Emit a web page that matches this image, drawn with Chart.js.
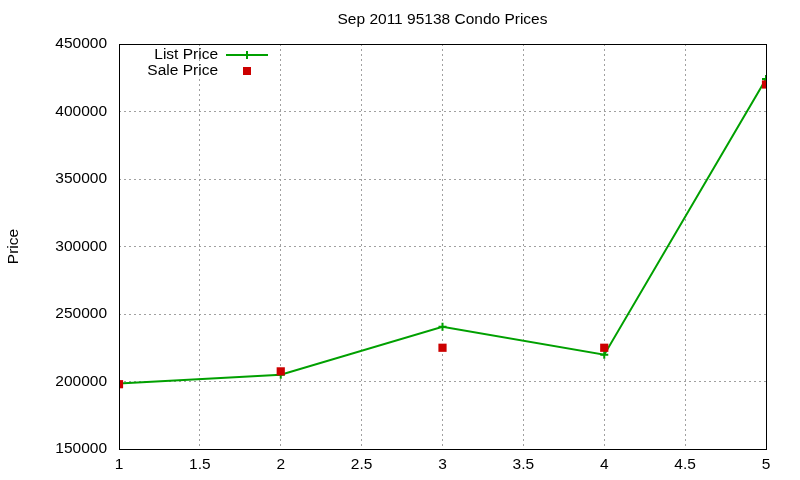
<!DOCTYPE html>
<html>
<head>
<meta charset="utf-8">
<script src="https://cdn.jsdelivr.net/npm/chart.js@4.4.0/dist/chart.umd.min.js"></script>
<style>
  html, body { margin: 0; padding: 0; background: #fff; }
  #wrap { width: 800px; height: 480px; }
</style>
</head>
<body>
<div id="wrap"><canvas id="myChart" width="800" height="480"></canvas></div>
<script>
// data
const xValues = [1, 2, 3, 4, 5];
const listPrice = [198500, 205000, 240500, 219800, 424000];
const salePrice = [198000, 207500, 225000, 225000, 420000];
const seriesLabels = ['List Price', 'Sale Price'];
const chartTitle = 'Sep 2011 95138 Condo Prices';
const yTitle = 'Price';

const FONT = '"Liberation Sans", Arial, sans-serif';

// gnuplot-like frame, title and key drawn on top of the plot
const frameAndKey = {
  id: 'frameAndKey',
  afterDatasetsDraw(chart) {
    const { ctx, chartArea: a } = chart;
    ctx.save();
    ctx.strokeStyle = '#000';
    ctx.lineWidth = 1;
    ctx.strokeRect(Math.round(a.left) + 0.5, Math.round(a.top) + 0.5,
      Math.round(a.right - a.left), Math.round(a.bottom - a.top));

    ctx.fillStyle = '#000';
    ctx.font = '15.5px ' + FONT;
    ctx.textAlign = 'center';
    ctx.textBaseline = 'middle';
    ctx.fillText(chartTitle, (a.left + a.right) / 2, 20);

    // key
    ctx.font = '15.5px ' + FONT;
    ctx.textAlign = 'right';
    const textRight = 218, sampleX = 226, sampleW = 42;
    const rows = [55, 71];
    chart.data.datasets.forEach((ds, i) => {
      const y = rows[i];
      ctx.fillText(ds.label, textRight, y);
      const cx = sampleX + sampleW / 2;
      if (ds.showLine !== false) {
        ctx.strokeStyle = ds.borderColor;
        ctx.lineWidth = 2;
        ctx.beginPath();
        ctx.moveTo(sampleX, y); ctx.lineTo(sampleX + sampleW, y);
        ctx.moveTo(cx, y - 4); ctx.lineTo(cx, y + 4);
        ctx.stroke();
      } else {
        ctx.fillStyle = ds.pointBackgroundColor;
        ctx.fillRect(cx - 4, y - 4, 8, 8);
        ctx.fillStyle = '#000';
      }
    });
    ctx.restore();
  }
};

const ctx = document.getElementById('myChart').getContext('2d');
new Chart(ctx, {
  type: 'scatter',
  data: {
    datasets: [{
      label: seriesLabels[0],
      data: xValues.map((x, i) => ({ x: x, y: listPrice[i] })),
      showLine: true,
      borderColor: '#00a000',
      borderWidth: 2,
      pointStyle: 'cross',
      pointRadius: 4,
      pointBorderWidth: 2,
      pointBorderColor: '#00a000',
      tension: 0,
      order: 2
    }, {
      label: seriesLabels[1],
      data: xValues.map((x, i) => ({ x: x, y: salePrice[i] })),
      showLine: false,
      pointStyle: 'rect',
      pointRadius: 5.8,
      pointBorderWidth: 0,
      pointBackgroundColor: '#cc0000',
      pointBorderColor: '#cc0000',
      order: 1
    }]
  },
  options: {
    responsive: false,
    animation: false,
    layout: { padding: { left: 0, right: 34, top: 44, bottom: 0 } },
    plugins: {
      legend: { display: false },
      tooltip: { enabled: false },
      title: { display: false }
    },
    scales: {
      x: {
        type: 'linear',
        min: 1, max: 5,
        afterFit(scale) { scale.height = 31; },
        ticks: {
          stepSize: 0.5,
          color: '#000',
          padding: 6,
          font: { family: FONT, size: 15.5 },
          callback: v => String(v)
        },
        grid: { color: '#a0a0a0', drawTicks: false },
        border: { display: false, dash: [2, 3] }
      },
      y: {
        min: 150000, max: 450000,
        afterFit(scale) { scale.width = 119; },
        ticks: {
          stepSize: 50000,
          color: '#000',
          padding: 12,
          font: { family: FONT, size: 15.5 },
          callback: v => String(v)
        },
        title: {
          display: true,
          text: yTitle,
          color: '#000',
          padding: { top: 4, bottom: 0 },
          font: { family: FONT, size: 15.5 }
        },
        grid: { color: '#a0a0a0', drawTicks: false },
        border: { display: false, dash: [2, 3] }
      }
    }
  },
  plugins: [frameAndKey]
});
</script>
</body>
</html>
